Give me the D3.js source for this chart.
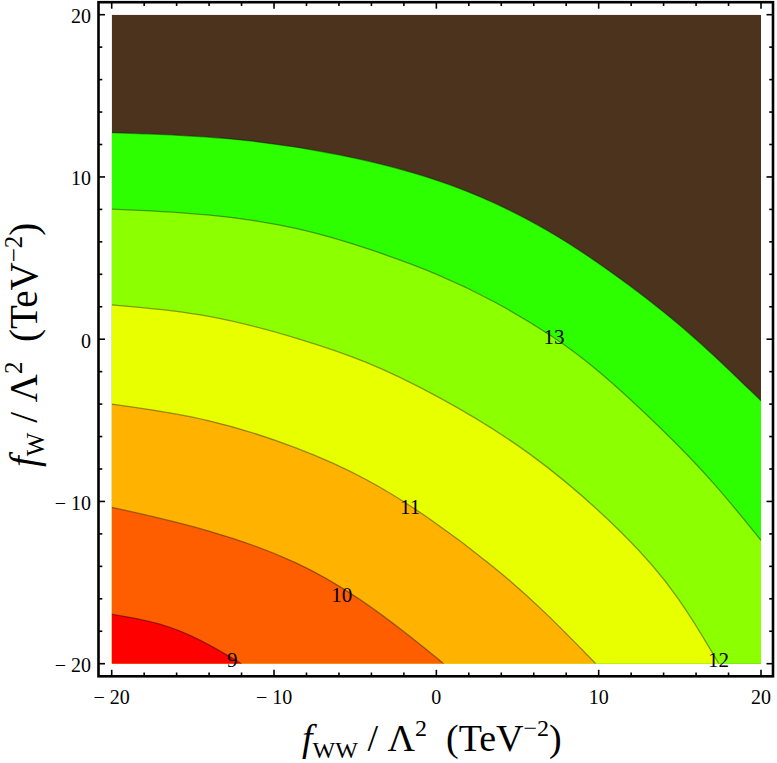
<!DOCTYPE html>
<html><head><meta charset="utf-8">
<script src="https://cdn.jsdelivr.net/npm/d3@7"></script>
<style>
body{margin:0;background:#fff}
svg{display:block}
text{font-family:"Liberation Serif","Times New Roman",serif;fill:#000}
</style>
</head><body>
<svg id="chart" width="777" height="763"></svg>
<script>
// ---------- data ----------
const levels = [9, 10, 11, 12, 13, 14];
// contour curves, [fWW, fW] points from the left edge to the bottom/right edge
const contour9  = [[-20,-16.95],[-17,-17.45],[-14.5,-18.5],[-12,-20]];
const contour10 = [[-20,-10.36],[-14,-11.7],[-8.4,-13.7],[-4.5,-16.1],[-1.5,-18.4],[0.45,-20]];
const contour11 = [[-20,-4.0],[-14,-4.85],[-8.4,-6.7],[-4.3,-8.55],[-0.4,-11.0],[3.7,-14.1],[6.8,-16.89],[9.82,-20]];
const contour12 = [[-20,2.11],[-14,1.6],[-8.1,-0.05],[-4.3,-1.35],[-0.4,-3.2],[5.8,-6.8],[11.9,-12.2],[15,-15.9],[17.4,-20]];
const contour13 = [[-20,8.02],[-14,7.76],[-8.4,6.9],[-3.9,5.5],[0.2,4.0],[3.7,2.3],[7.2,0.2],[9.9,-1.8],[14,-5.6],[17.1,-8.8],[20,-12.4]];
const contour14 = [[-20,12.73],[-13,12.5],[-6,11.5],[1,9.7],[7,6.8],[12,3.3],[16,0.1],[20,-3.8]];
const contours = [contour9, contour10, contour11, contour12, contour13, contour14];
// band fill below each level, last = above highest level
const bandColors = ["#ff0000", "#ff5e00", "#ffb300", "#e8ff00", "#8cff00", "#2eff00", "#4b331e"];
// contour labels
const labelText = ["9", "10", "11", "12", "13"];
const labelX = [-12.57, -5.83, -1.62, 17.38, 7.25];
const labelY = [-19.77, -15.77, -10.32, -19.77, 0.15];
// ticks
const majorTicks = [-20, -10, 0, 10, 20];
const majorTickLabels = ["\u2212 20", "\u2212 10", "0", "10", "20"];
const minorTicks = [-18,-16,-14,-12,-8,-6,-4,-2,2,4,6,8,12,14,16,18];

// ---------- drawing ----------
const svg = d3.select("#chart");
const x = d3.scaleLinear().domain([-20, 20]).range([111.7, 761]);
const y = d3.scaleLinear().domain([-20, 20]).range([663.7, 14.7]);

const defs = svg.append("defs");
defs.append("clipPath").attr("id", "plotclip").append("rect")
  .attr("x", x(-20)).attr("y", y(20)).attr("width", x(20) - x(-20)).attr("height", y(-20) - y(20));

const plot = svg.append("g").attr("clip-path", "url(#plotclip)");
plot.append("rect")
  .attr("x", x(-20)).attr("y", y(20)).attr("width", x(20) - x(-20)).attr("height", y(-20) - y(20))
  .attr("fill", bandColors[6]);

const line = d3.line().x(d => x(d[0])).y(d => y(d[1])).curve(d3.curveBasis);

function regionPath(c) {
  const last = c[c.length - 1];
  let p = line(c);
  if (last[0] >= 20) p += "L" + x(20) + "," + y(-20);
  p += "L" + x(-20) + "," + y(-20) + "Z";
  return p;
}

for (let i = contours.length - 1; i >= 0; i--) {
  plot.append("path").attr("d", regionPath(contours[i])).attr("fill", bandColors[i]);
}
contours.forEach((c, i) => {
  plot.append("path").attr("d", line(c)).attr("fill", "none")
    .attr("stroke", "rgba(0,0,0,0.38)").attr("stroke-width", 1.3);
});

// contour labels
svg.append("g").selectAll("text").data(labelText).join("text")
  .attr("x", (d, i) => x(labelX[i]))
  .attr("y", (d, i) => y(labelY[i]))
  .attr("text-anchor", "middle").attr("dominant-baseline", "central")
  .attr("font-size", 21).text(d => d);

// frame
const fL = 98.5, fR = 773, fT = 2.2, fB = 676.3;
const axes = svg.append("g").attr("stroke", "#000");
axes.append("rect").attr("x", fL).attr("y", fT).attr("width", fR - fL).attr("height", fB - fT)
  .attr("fill", "none").attr("stroke-width", 2.6);

const majLen = 6.5, minLen = 3.8;
function ticks(vals, len) {
  vals.forEach(v => {
    axes.append("line").attr("x1", x(v)).attr("x2", x(v)).attr("y1", fB).attr("y2", fB - len).attr("stroke-width", 1.6);
    axes.append("line").attr("x1", x(v)).attr("x2", x(v)).attr("y1", fT).attr("y2", fT + len).attr("stroke-width", 1.6);
    axes.append("line").attr("y1", y(v)).attr("y2", y(v)).attr("x1", fL).attr("x2", fL + len).attr("stroke-width", 1.6);
    axes.append("line").attr("y1", y(v)).attr("y2", y(v)).attr("x1", fR).attr("x2", fR - len).attr("stroke-width", 1.6);
  });
}
ticks(majorTicks, majLen);
ticks(minorTicks, minLen);

// tick labels
svg.append("g").selectAll("text").data(majorTicks).join("text")
  .attr("x", d => x(d)).attr("y", 704)
  .attr("text-anchor", "middle").attr("font-size", 20)
  .style("white-space", "pre")
  .text((d, i) => majorTickLabels[i]);
svg.append("g").selectAll("text").data(majorTicks).join("text")
  .attr("x", 91).attr("y", d => y(d) + 8.5)
  .attr("text-anchor", "end").attr("font-size", 20)
  .style("white-space", "pre")
  .text((d, i) => majorTickLabels[i]);

// axis titles
function title(g, sub, fs) {
  const ss = Math.round(fs * 0.64), dn = fs * 0.19, up = fs * 0.39;
  const t = g.append("text").attr("font-size", fs).style("white-space", "pre");
  t.append("tspan").attr("font-style", "italic").text("f");
  t.append("tspan").attr("font-size", ss).attr("dy", dn).text(sub);
  t.append("tspan").attr("dy", -dn).text(" / \u039B");
  t.append("tspan").attr("font-size", ss).attr("dy", -up).text("2");
  t.append("tspan").attr("dy", up).text("  (TeV");
  t.append("tspan").attr("font-size", ss).attr("dy", -up).text("\u22122");
  t.append("tspan").attr("dy", up).text(")");
  return t;
}
title(svg.append("g").attr("transform", "translate(302,751)"), "WW", 38);
title(svg.append("g").attr("transform", "translate(37,467) rotate(-90)"), "W", 39);
</script>
</body></html>
